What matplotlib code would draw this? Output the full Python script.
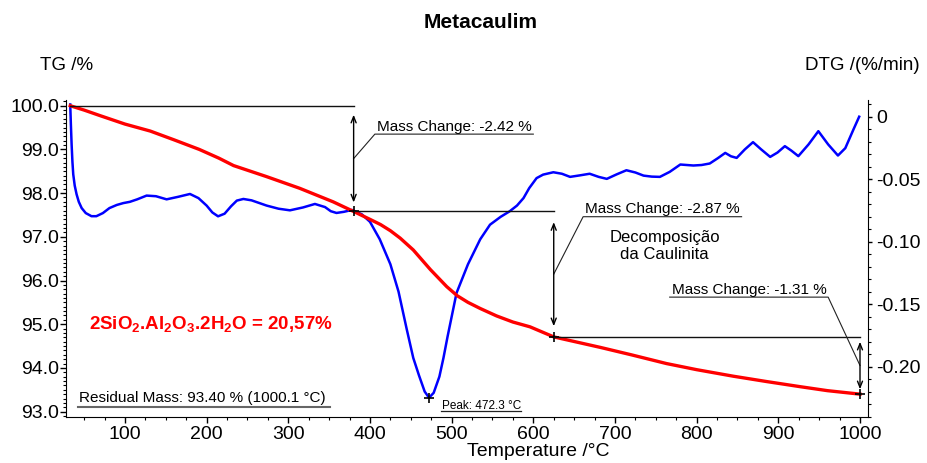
import numpy as np
import matplotlib
matplotlib.use("Agg")
import matplotlib.pyplot as plt
from matplotlib.ticker import MultipleLocator, FuncFormatter

plt.rcParams['font.family'] = ['Liberation Sans', 'DejaVu Sans']
plt.rcParams['mathtext.fontset'] = 'custom'
plt.rcParams['mathtext.rm'] = 'Liberation Sans'
plt.rcParams['mathtext.bf'] = 'Liberation Sans:bold'

# TG curve (%)
tg_temp = [33, 50, 70, 100, 131, 160, 191, 215, 233, 273, 314, 355, 380,
           400, 413, 425, 437, 453, 474, 494, 507, 520, 535, 555, 575, 596,
           625, 682, 720, 763, 800, 845, 885, 927, 960, 985, 1000]
tg_val = [100.0, 99.90, 99.77, 99.58, 99.42, 99.22, 99.00, 98.80, 98.63, 98.38,
          98.11, 97.80, 97.58, 97.40, 97.28, 97.14, 96.97, 96.70, 96.25, 95.86,
          95.65, 95.50, 95.36, 95.19, 95.05, 94.94, 94.71, 94.47, 94.30, 94.10,
          93.96, 93.81, 93.69, 93.57, 93.48, 93.43, 93.40]

# DTG curve (%/min)
dtg_temp = [33, 33.8, 34.7, 35.7, 36.7, 38.5, 40.8, 43.5, 47, 52, 59, 65, 73,
            81, 90, 98, 106, 115, 126.5, 138, 151, 165, 179.6, 190, 200, 207,
            214, 222, 230, 237, 245, 255, 273.5, 288, 302, 318, 332.6, 345,
            352, 359, 368, 378, 390, 400, 412, 425, 435, 445, 453, 460, 467,
            472.3, 478, 485, 490, 495, 506, 520, 535, 547, 560, 571, 580, 588,
            595, 604, 612, 624.5, 635, 645, 657, 669, 680, 690, 702, 714, 725,
            735, 745, 755, 767, 780, 796, 806, 816, 826, 835, 842, 849, 859,
            869, 879, 890, 899, 908, 916, 924.5, 937, 949, 961, 973, 982, 992,
            999]
dtg_val = [0.010, -0.006, -0.022, -0.036, -0.046, -0.055, -0.062, -0.068,
           -0.073, -0.077, -0.0795, -0.0795, -0.077, -0.073, -0.0705, -0.069,
           -0.068, -0.066, -0.063, -0.0635, -0.066, -0.064, -0.0617, -0.065,
           -0.071, -0.0765, -0.0796, -0.0775, -0.0715, -0.067, -0.0657,
           -0.0668, -0.071, -0.0735, -0.0748, -0.0725, -0.0697, -0.0722,
           -0.0755, -0.0769, -0.076, -0.0745, -0.078, -0.084, -0.098, -0.118,
           -0.140, -0.170, -0.193, -0.207, -0.220, -0.2249, -0.221, -0.208,
           -0.193, -0.176, -0.141, -0.118, -0.098, -0.0863, -0.080, -0.0756,
           -0.071, -0.065, -0.057, -0.049, -0.0462, -0.0443, -0.0455, -0.048,
           -0.0468, -0.0455, -0.048, -0.0496, -0.046, -0.0427, -0.0445,
           -0.047, -0.0478, -0.048, -0.044, -0.0381, -0.0389, -0.0385,
           -0.0373, -0.033, -0.0288, -0.0315, -0.0328, -0.026, -0.0202,
           -0.026, -0.032, -0.0285, -0.0234, -0.027, -0.0314, -0.022, -0.0114,
           -0.022, -0.0309, -0.025, -0.010, 0.0002]

step_temp = [33, 380, 625, 1000]
step_tg = [100.0, 97.58, 94.71, 93.40]
mass_labels = ['Mass Change: -2.42 %', 'Mass Change: -2.87 %', 'Mass Change: -1.31 %']
peak_temp, peak_dtg = 472.3, -0.2249

fig = plt.figure(figsize=(9.28, 4.63), dpi=100)
ax = fig.add_axes([0.0711, 0.0987, 0.8639, 0.6843])
ax2 = ax.twinx()
ax.set_zorder(ax2.get_zorder() + 1)
ax.patch.set_visible(False)

ax2.plot(dtg_temp, dtg_val, color='#0000ff', lw=1.8, solid_joinstyle='round')
ax.plot(tg_temp, tg_val, color='#ff0000', lw=2.4, solid_joinstyle='round')

ax.set_xlim(27.8, 1009.4)
ax.set_ylim(92.87, 100.12)
ax2.set_ylim(-0.2406, 0.0132)

for a in (ax, ax2):
    a.spines['top'].set_visible(False)
ax.spines['right'].set_visible(False)
ax2.spines['left'].set_visible(False)
ax2.spines['bottom'].set_visible(False)

ax.xaxis.set_major_locator(MultipleLocator(100))
ax.xaxis.set_minor_locator(MultipleLocator(25))
ax.yaxis.set_major_locator(MultipleLocator(1))
ax.yaxis.set_minor_locator(MultipleLocator(0.1))
ax.yaxis.set_major_formatter(FuncFormatter(lambda v, p: '%.1f' % v))
ax2.yaxis.set_major_locator(MultipleLocator(0.05))
ax2.yaxis.set_minor_locator(MultipleLocator(0.01))
ax2.yaxis.set_major_formatter(FuncFormatter(lambda v, p: '0' if abs(v) < 1e-9 else '%.2f' % v))

ax.tick_params(axis='x', which='major', length=4, width=1, labelsize=14, pad=2)
ax.tick_params(axis='x', which='minor', length=2.5, width=0.8)
ax.tick_params(axis='y', which='major', length=4, width=1, labelsize=14, pad=1)
ax.tick_params(axis='y', which='minor', length=2, width=0.8)
ax2.tick_params(axis='y', which='major', length=3, width=1, labelsize=14, pad=3)
ax2.tick_params(axis='y', which='minor', length=2, width=0.8)

# step lines, arrows and markers
for i in range(3):
    ax.plot([step_temp[i], step_temp[i + 1]], [step_tg[i]] * 2, color='#111111', lw=1)
    d = step_tg[i] - step_tg[i + 1]
    ax.annotate('', xy=(step_temp[i + 1], step_tg[i + 1] + 0.085 * d),
                xytext=(step_temp[i + 1], step_tg[i] - 0.085 * d),
                arrowprops=dict(arrowstyle='<->,head_length=0.45,head_width=0.18',
                                color='black', lw=1, shrinkA=0, shrinkB=0))
    ax.plot(step_temp[i + 1], step_tg[i + 1], '+', color='black', ms=7, mew=1.2)

# leaders to the mass change labels
elbows = [(406, 99.35, 600), (661, 97.46, 855), (961, 95.62, 767)]
for i, (ex, ey, ux) in enumerate(elbows):
    mid = (step_tg[i] + step_tg[i + 1]) / 2
    ax.plot([step_temp[i + 1], ex, ux], [mid, ey, ey], color='#222222', lw=0.8)
    ax.annotate(mass_labels[i], xy=(min(ex, ux), ey), xytext=(1.5, 2.4),
                textcoords='offset points', ha='left', va='baseline', fontsize=11)

ax.text(761, 96.79, 'Decomposição\nda Caulinita', ha='center', va='center',
        multialignment='center', fontsize=12, linespacing=1.1)

# peak
ax2.plot(peak_temp, peak_dtg, '+', color='black', ms=7, mew=1.2)
ax2.plot([486.9, 584.9], [-0.2356, -0.2356], color='#222222', lw=0.9)
ax2.annotate('Peak: 472.3 °C', xy=(486.9, -0.2356), xytext=(0.5, 1.5),
             textcoords='offset points', ha='left', va='baseline', fontsize=8.5)

# residual mass
ax.plot([42.4, 351], [93.11, 93.11], color='#666666', lw=1.5)
ax.text(43.7, 93.21, 'Residual Mass: 93.40 % (1000.1 °C)', ha='left', va='baseline', fontsize=11)

ax.text(55.9, 94.88, r'2SiO$_\mathbf{2}$.Al$_\mathbf{2}$O$_\mathbf{3}$.2H$_\mathbf{2}$O = 20,57%',
        color='#ff0000', fontweight='bold', fontsize=13.5, ha='left', va='baseline')

fig.text(481 / 928, 1 - 22 / 463, 'Metacaulim', ha='center', va='center',
         fontsize=15, fontweight='bold')
fig.text(40 / 928, 1 - 65 / 463, 'TG /%', ha='left', va='center', fontsize=13.5)
fig.text(920 / 928, 1 - 65 / 463, 'DTG /(%/min)', ha='right', va='center', fontsize=13.5)
fig.text(538 / 928, 1 - 452 / 463, 'Temperature /°C', ha='center', va='center', fontsize=14)

fig.savefig('out.png', dpi=100)
